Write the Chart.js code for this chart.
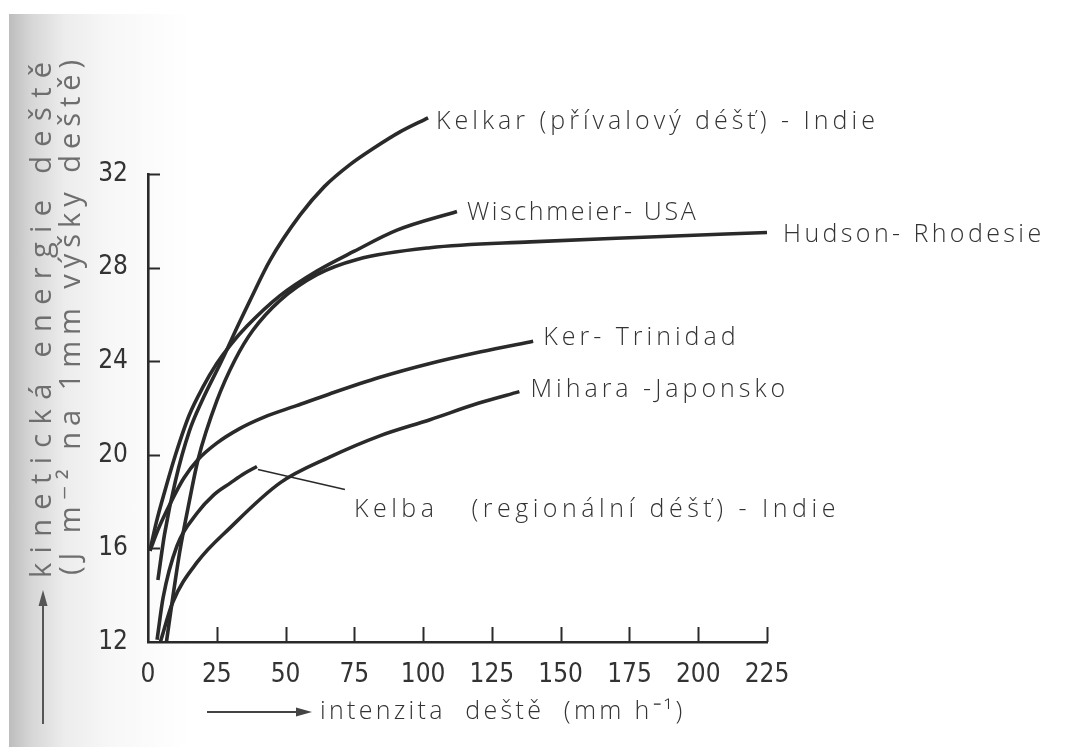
<!DOCTYPE html>
<html lang="cs">
<head>
<meta charset="utf-8">
<title>Kinetická energie deště</title>
<script src="https://cdn.jsdelivr.net/npm/chart.js@4.4.1/dist/chart.umd.min.js"></script>
<style>
  html, body { margin: 0; padding: 0; background: #fff; }
  #wrap { position: relative; width: 1071px; height: 747px; overflow: hidden; background: #fff; }
  #shade { position: absolute; left: 9px; top: 14px; width: 180px; height: 733px;
           background: linear-gradient(to right, #bdbdbd 0, #d6d6d6 22px, #ececec 55px, #f7f7f7 100px, rgba(255,255,255,0) 180px); }
  canvas { position: absolute; left: 0; top: 0; }
</style>
</head>
<body>
<div id="wrap"><div id="shade"></div><canvas id="c" width="1071" height="747"></canvas></div>
<script>
// Rain intensity I (mm/h) against kinetic energy E (J m^-2 per 1 mm of rain)
const seriesNames = [
  'Kelkar (přívalový déšť) - Indie',
  'Wischmeier- USA',
  'Hudson- Rhodesie',
  'Ker- Trinidad',
  'Mihara -Japonsko',
  'Kelba   (regionální déšť) - Indie'
];

const kelkarI = [3.6, 6, 10, 15, 19.6, 26.9, 33, 37.1, 44.3, 55.3, 64, 73.4, 82, 91.6, 101.8];
const kelkarE = [14.65, 16.6, 18.9, 21.0, 22.3, 24.05, 25.6, 26.6, 28.3, 30.25, 31.45, 32.4, 33.1, 33.8, 34.4];

const wischmeierI = [0.7, 3, 6, 10, 15, 20, 25, 30, 36, 48, 61.4, 75, 90.5, 112.3];
const wischmeierE = [15.9, 17.1, 18.4, 20.0, 21.7, 22.9, 23.9, 24.7, 25.5, 26.8, 27.85, 28.7, 29.6, 30.4];

const hudsonI = [6.7, 9, 11.6, 15, 18.2, 25, 31.6, 38, 48, 61.4, 76, 102.5, 139, 180, 225];
const hudsonE = [12.0, 13.9, 15.9, 18.0, 19.8, 22.3, 24.05, 25.3, 26.6, 27.7, 28.35, 28.85, 29.1, 29.3, 29.5];

const kerI = [0.7, 4, 8, 13, 18.2, 25, 33, 42, 54, 66, 84, 102.5, 121, 140];
const kerE = [15.9, 16.9, 17.9, 19.0, 19.8, 20.5, 21.1, 21.6, 22.1, 22.6, 23.3, 23.9, 24.4, 24.85];

const miharaI = [4.5, 9, 17.8, 30, 48, 66, 84, 102.5, 120, 135];
const miharaE = [12.0, 13.7, 15.4, 16.9, 18.8, 19.9, 20.8, 21.5, 22.2, 22.7];

const kelbaI = [3.3, 5.5, 10.5, 17.8, 24, 30, 35, 39.6];
const kelbaE = [12.1, 13.9, 16.1, 17.5, 18.3, 18.8, 19.2, 19.5];

const xTickValues = [0, 25, 50, 75, 100, 125, 150, 175, 200, 225];
const yTickValues = [12, 16, 20, 24, 28, 32];

const xTitle = 'intenzita  deště  (mm h⁻¹)';
const yTitleLines = ['kinetická energie deště', '(J m⁻² na 1mm výšky deště)'];

// ---- styling ----
const ink = '#2a2a2a';
const textInk = '#333333';
const labelFont = '300 25px "Open Sans", "DejaVu Sans", sans-serif';
const tickFamily = '"Liberation Sans Narrow", "DejaVu Sans Condensed", "Open Sans", sans-serif';

// where each curve's name sits relative to the curve's last point
const labelPlacement = [
  { dx: 8,  dy: 4,  spacing: 4 },
  { dx: 10, dy: 1,  spacing: 2.6 },
  { dx: 16, dy: 2,  spacing: 3.4 },
  { dx: 10, dy: -3, spacing: 4 },
  { dx: 11, dy: -2, spacing: 4 },
  { dx: 97, dy: 43, spacing: 4.5, leader: [1, 3, 88, 23] }
];

const pairs = (xs, ys) => xs.map((v, i) => ({ x: v, y: ys[i] }));
const seriesData = [
  pairs(kelkarI, kelkarE),
  pairs(wischmeierI, wischmeierE),
  pairs(hudsonI, hudsonE),
  pairs(kerI, kerE),
  pairs(miharaI, miharaE),
  pairs(kelbaI, kelbaE)
];

function arrowHead(ctx, tipX, tipY, dirX, dirY, len, half) {
  const bx = tipX - dirX * len, by = tipY - dirY * len;
  ctx.beginPath();
  ctx.moveTo(tipX, tipY);
  ctx.lineTo(bx - dirY * half, by + dirX * half);
  ctx.lineTo(bx + dirY * half, by - dirX * half);
  ctx.closePath();
  ctx.fill();
}

const annotate = {
  id: 'annotate',
  afterDraw(chart) {
    const { ctx, chartArea: area, scales: { x, y } } = chart;
    ctx.save();

    // inward tick marks
    ctx.strokeStyle = ink;
    ctx.lineWidth = 2;
    xTickValues.slice(1).forEach(v => {
      const px = Math.round(x.getPixelForValue(v)) + 0.5;
      ctx.beginPath(); ctx.moveTo(px, area.bottom); ctx.lineTo(px, area.bottom - 15); ctx.stroke();
    });
    yTickValues.slice(1).forEach(v => {
      const py = Math.round(y.getPixelForValue(v)) + 0.5;
      ctx.beginPath(); ctx.moveTo(area.left, py); ctx.lineTo(area.left + 12, py); ctx.stroke();
    });

    // curve names at the end of each curve
    ctx.font = labelFont;
    ctx.fillStyle = textInk;
    ctx.textAlign = 'left';
    ctx.textBaseline = 'middle';
    seriesNames.forEach((name, i) => {
      const pts = chart.getDatasetMeta(i).data;
      const end = pts[pts.length - 1];
      const p = labelPlacement[i];
      if (p.leader) {
        ctx.strokeStyle = ink; ctx.lineWidth = 1.6;
        ctx.beginPath();
        ctx.moveTo(end.x + p.leader[0], end.y + p.leader[1]);
        ctx.lineTo(end.x + p.leader[2], end.y + p.leader[3]);
        ctx.stroke();
      }
      ctx.letterSpacing = p.spacing + 'px';
      ctx.fillText(name, end.x + p.dx, end.y + p.dy);
    });

    // horizontal axis title with its arrow
    const tx = area.left + 172, ty = area.bottom + 70;
    ctx.letterSpacing = '3.3px';
    ctx.fillText(xTitle, tx, ty);
    ctx.letterSpacing = '0px';
    ctx.strokeStyle = '#444'; ctx.lineWidth = 2;
    ctx.beginPath(); ctx.moveTo(tx - 113, ty); ctx.lineTo(tx - 20, ty); ctx.stroke();
    ctx.fillStyle = '#444';
    arrowHead(ctx, tx - 8, ty, 1, 0, 16, 4.5);

    // vertical axis title (two rotated lines) with its arrow
    ctx.fillStyle = '#6e6e6e';
    ctx.font = '400 29px "Open Sans", "DejaVu Sans", sans-serif';
    const targets = [516, 515];
    const cx = [area.left - 105, area.left - 76];
    const startY = [area.bottom - 64, area.bottom - 67];
    yTitleLines.forEach((line, i) => {
      ctx.save();
      ctx.letterSpacing = '0px';
      const natural = ctx.measureText(line).width;
      const spacing = Math.max(0, (targets[i] - natural) / (line.length - 1));
      ctx.letterSpacing = spacing.toFixed(2) + 'px';
      ctx.translate(cx[i], startY[i]);
      ctx.rotate(-Math.PI / 2);
      ctx.textAlign = 'left';
      ctx.textBaseline = 'middle';
      ctx.fillText(line, 0, 0);
      ctx.restore();
    });
    ctx.strokeStyle = '#555'; ctx.fillStyle = '#555'; ctx.lineWidth = 2;
    ctx.beginPath(); ctx.moveTo(cx[0], area.bottom + 82); ctx.lineTo(cx[0], area.bottom - 38); ctx.stroke();
    arrowHead(ctx, cx[0], area.bottom - 52, 0, -1, 16, 4.5);

    ctx.restore();
  }
};

new Chart(document.getElementById('c'), {
  type: 'scatter',
  data: {
    datasets: seriesData.map((d, i) => ({
      label: seriesNames[i],
      data: d,
      showLine: true,
      borderColor: ink,
      borderWidth: 3.6,
      pointRadius: 0,
      cubicInterpolationMode: 'monotone',
      clip: false
    }))
  },
  options: {
    responsive: false,
    animation: false,
    devicePixelRatio: 1,
    layout: { padding: { top: 174, right: 304, bottom: 0, left: 0 } },
    plugins: { legend: { display: false }, tooltip: { enabled: false } },
    scales: {
      x: {
        type: 'linear', min: 0, max: 225,
        afterBuildTicks: s => { s.ticks = xTickValues.map(v => ({ value: v })); },
        afterFit: s => { s.height = 105; },
        grid: { display: false },
        border: { display: true, color: ink, width: 2.6 },
        ticks: { color: textInk, padding: 10, font: { family: tickFamily, size: 26 } }
      },
      y: {
        type: 'linear', min: 12, max: 32,
        afterBuildTicks: s => { s.ticks = yTickValues.map(v => ({ value: v })); },
        afterFit: s => { s.width = 148; },
        grid: { display: false },
        border: { display: true, color: ink, width: 2.6 },
        ticks: { color: textInk, padding: 12, font: { family: tickFamily, size: 26 } }
      }
    }
  },
  plugins: [annotate]
});
</script>
</body>
</html>
